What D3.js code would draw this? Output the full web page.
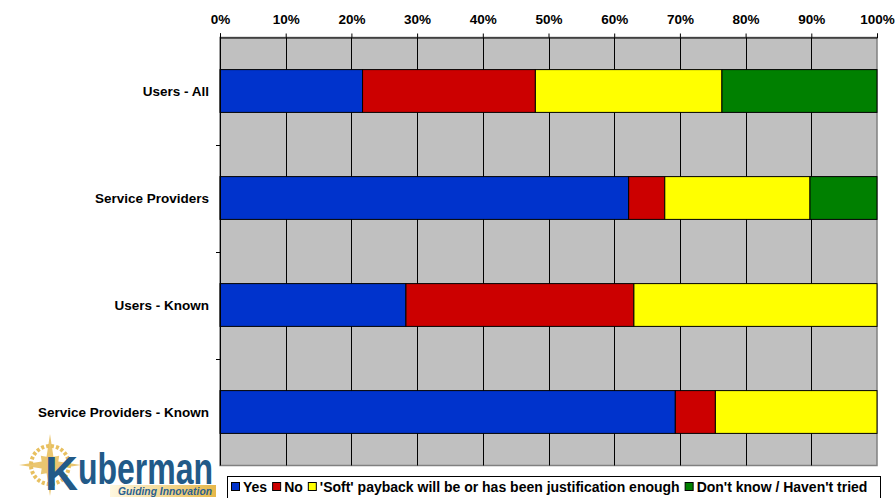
<!DOCTYPE html>
<html><head><meta charset="utf-8">
<script src="https://cdn.jsdelivr.net/npm/d3@7"></script>
<style>body{margin:0;background:#fff}svg{display:block}</style>
</head><body>
<svg id="c" width="896" height="498"></svg>
<script>
const categories = ["Users - All", "Service Providers", "Users - Known", "Service Providers - Known"];
const seriesNames = ["Yes", "No", "'Soft' payback will be or has been justification enough", "Don't know / Haven't tried"];
const yesValues  = [21.7, 62.2, 28.3, 69.3];
const noValues   = [26.3, 5.5, 34.7, 6.1];
const softValues = [28.4, 22.1, 37.0, 24.6];
const dkValues   = [23.6, 10.2, 0, 0];
const seriesColors = ["#0033cc", "#cc0000", "#ffff00", "#008000"];
const tickValues = [0,10,20,30,40,50,60,70,80,90,100];

const svg = d3.select("#c");
const font = "'Liberation Sans', Arial, sans-serif";
const L = 220, R = 877, T = 37.5, B = 465.5;

const x = d3.scaleLinear().domain([0,100]).range([L,R]);
const y = d3.scaleBand().domain(categories).range([T,B]).paddingInner(0.6).paddingOuter(0.3);

// plot background
svg.append("rect").attr("x",L).attr("y",T).attr("width",R-L).attr("height",B-T)
  .attr("fill","#c0c0c0").attr("stroke","#808080").attr("stroke-width",1.5);

// gridlines
svg.append("g").selectAll("line").data(tickValues.slice(1,-1)).join("line")
  .attr("x1",d=>Math.round(x(d))+0.5).attr("x2",d=>Math.round(x(d))+0.5)
  .attr("y1",T).attr("y2",B).attr("stroke","#000").attr("stroke-width",1);

// stacked data
const table = categories.map((c,i)=>{
  const o={cat:c};
  [yesValues,noValues,softValues,dkValues].forEach((arr,j)=>o[seriesNames[j]]=arr[i]);
  return o;
});
const stack = d3.stack().keys(seriesNames)(table);

svg.append("g").selectAll("g").data(stack).join("g")
  .attr("fill",(d,i)=>seriesColors[i])
  .selectAll("rect").data(d=>d.filter(e=>e[1]-e[0]>0)).join("rect")
  .attr("x",d=>x(d[0])).attr("width",d=>x(d[1])-x(d[0]))
  .attr("y",d=>y(d.data.cat)).attr("height",y.bandwidth())
  .attr("stroke","#000").attr("stroke-width",1);

// top axis
const xAxis = d3.axisTop(x).tickValues(tickValues).tickFormat(d=>d+"%").tickSize(4).tickPadding(10);
const gx = svg.append("g").attr("transform",`translate(0,${T})`).call(xAxis);
gx.select(".domain").attr("stroke","#000");
gx.selectAll(".tick line").attr("stroke","#000");
gx.selectAll("text").attr("font-family",font).attr("font-weight","bold").attr("font-size","13.5px").attr("fill","#000");

// left axis
const gy = svg.append("g").attr("transform",`translate(${L},0)`);
gy.append("line").attr("x1",0.5).attr("x2",0.5).attr("y1",T-4).attr("y2",B).attr("stroke","#000");
const step = y.step();
const bounds = categories.slice(1).map(c=>y(c) - step*y.paddingInner()/2);
gy.selectAll("line.tk").data(bounds).join("line").attr("class","tk")
  .attr("x1",-4).attr("x2",0).attr("y1",d=>Math.round(d)+0.5).attr("y2",d=>Math.round(d)+0.5).attr("stroke","#000");
gy.selectAll("text").data(categories).join("text")
  .attr("x",-11).attr("y",d=>y(d)+y.bandwidth()/2).attr("dy","0.35em")
  .attr("text-anchor","end").attr("font-family",font).attr("font-weight","bold").attr("font-size","13.5px")
  .text(d=>d);

// legend
const lg = svg.append("g");
lg.append("rect").attr("x",227.5).attr("y",476.5).attr("width",653).attr("height",30).attr("fill","#fff").attr("stroke","#000");
let lx = 231;
seriesNames.forEach((s,i)=>{
  lg.append("rect").attr("x",lx+0.5).attr("y",482.5).attr("width",8).attr("height",8).attr("fill",seriesColors[i]).attr("stroke","#000");
  const t = lg.append("text").attr("x",lx+12).attr("y",491.5).attr("font-family",font).attr("font-weight","bold")
    .attr("font-size","14px").text(s);
  lx += 12 + t.node().getComputedTextLength() + 5;
});

// logo
const logo = svg.append("g");
const defs = svg.append("defs");
const gr = defs.append("linearGradient").attr("id","gbar");
gr.append("stop").attr("offset","0%").attr("stop-color","#fff8e0");
gr.append("stop").attr("offset","100%").attr("stop-color","#e6b84a");
const cx=50, cy=465;
const star=[];
for(let k=0;k<16;k++){const a=k*Math.PI/8 - Math.PI/2; const r = k%4===0?31:(k%2===0?13:9); star.push([cx+r*Math.cos(a), cy+r*Math.sin(a)]);}
logo.append("polygon").attr("points",star.map(p=>p.join(",")).join(" ")).attr("fill","#e8c060").attr("opacity",0.9);
logo.append("circle").attr("cx",cx).attr("cy",cy).attr("r",19).attr("fill","none").attr("stroke","#e8c060").attr("stroke-width",4).attr("stroke-dasharray","3,2");
logo.append("rect").attr("x",110).attr("y",485).attr("width",106).attr("height",12).attr("fill","url(#gbar)");
logo.append("text").attr("x",45).attr("y",490).attr("font-family",font).attr("font-weight","bold").attr("font-size","48px")
  .attr("fill","#225a88").attr("textLength",33).attr("lengthAdjust","spacingAndGlyphs").text("K");
logo.append("text").attr("x",78).attr("y",484).attr("font-family",font).attr("font-weight","bold").attr("font-size","44px")
  .attr("fill","#225a88").attr("textLength",135).attr("lengthAdjust","spacingAndGlyphs").text("uberman");
logo.append("text").attr("x",118).attr("y",495).attr("font-family",font).attr("font-weight","bold").attr("font-style","italic").attr("font-size","10px")
  .attr("fill","#2a6090").attr("textLength",94).attr("lengthAdjust","spacingAndGlyphs").text("Guiding Innovation");
</script>
</body></html>
